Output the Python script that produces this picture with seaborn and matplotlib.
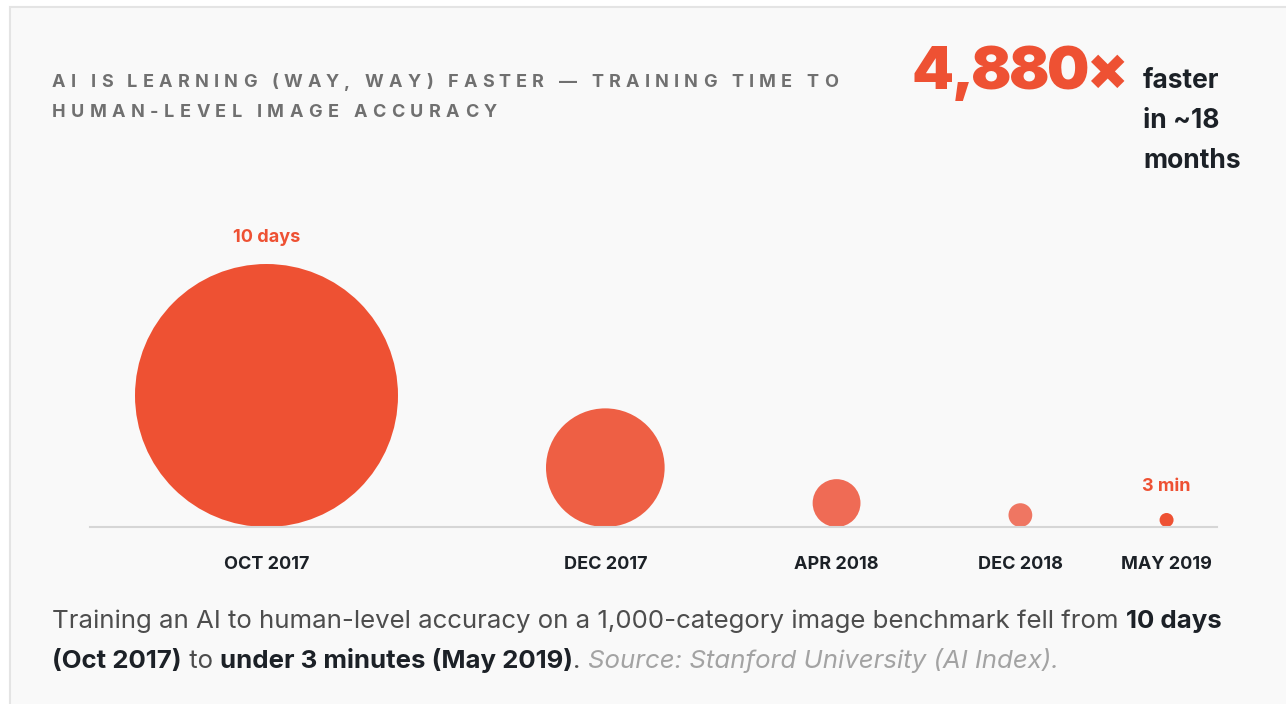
import numpy as np
import pandas as pd
import matplotlib
matplotlib.use("Agg")
import matplotlib.pyplot as plt
import seaborn as sns
from matplotlib.font_manager import FontProperties
from matplotlib.patches import Rectangle

# data
dates = ["OCT 2017", "DEC 2017", "APR 2018", "DEC 2018", "MAY 2019"]
minutes = [14400, 2900, 440, 80, 2.95]   # training time, minutes
dot_colors = ["#EE5133", "#EE5F44", "#EF6B55", "#EF7662", "#EE5133"]
value_labels = {"OCT 2017": "10 days", "MAY 2019": "3 min"}

title_lines = ["AI IS LEARNING (WAY, WAY) FASTER — TRAINING TIME TO",
               "HUMAN-LEVEL IMAGE ACCURACY"]
big_number = "4,880×"
big_note = ["faster", "in ~18", "months"]

RED = "#EE5133"
INK = "#1c2127"
W, H = 1286, 704

sns.set_theme(style="white")
plt.rcParams['font.family'] = ['Inter', 'DejaVu Sans']

fig = plt.figure(figsize=(W / 100, H / 100), dpi=100, facecolor="white")
fig.patches.append(Rectangle((10 / W, -0.1), 1.2, 1.1 - 7 / H,
                             transform=fig.transFigure, facecolor="#f9f9f9",
                             edgecolor="#e4e4e4", lw=1.5, zorder=-10))
renderer = fig.canvas.get_renderer()


def fx(x, y):
    return x / W, 1 - y / H


def text_width(s, **kw):
    fp = FontProperties(family=plt.rcParams['font.family'],
                        size=kw.get('fontsize', 10),
                        weight=kw.get('fontweight', 'normal'),
                        style=kw.get('fontstyle', 'normal'))
    w, h, d = renderer.get_text_width_height_descent(s, fp, ismath=False)
    return w


def spaced(x, y, s, spacing, **kw):
    for ch in s:
        fig.text(*fx(x, y), ch, va='baseline', ha='left', **kw)
        x += text_width(ch, **kw) + spacing


def runs(x, y, parts):
    for s, kw in parts:
        fig.text(*fx(x, y), s, va='baseline', ha='left', **kw)
        x += text_width(s, **kw)


# bubble axis: one data unit = one pixel
base_y, ax_left, ax_right = 527, 90, 1217
ax = fig.add_axes([ax_left / W, (H - base_y) / H, (ax_right - ax_left) / W, 330 / H])
ax.patch.set_alpha(0)
tick_kw = dict(fontweight='bold', fontsize=13)

df = pd.DataFrame({"date": dates, "minutes": minutes})
d_min, d_max = 14, 263
vmin, vmax = df.minutes.min(), df.minutes.max()
area = d_min**2 + (df.minutes - vmin) / (vmax - vmin) * (d_max**2 - d_min**2)
df["d"] = np.sqrt(area)
gap = 148
df["x"] = 45 + df.d.cumsum() - df.d / 2 + gap * np.arange(len(df))
# keep the last label inside the baseline
last_w = text_width(dates[-1], **tick_kw)
df.loc[df.index[-1], "x"] = min(df.x.iloc[-1], ax_right - ax_left - last_w / 2 - 5)
df["y"] = df.d / 2
df["s"] = (df.d * 0.72) ** 2

sns.scatterplot(data=df, x="x", y="y", hue="date", palette=dot_colors,
                size="s", sizes=(df.s.min(), df.s.max()),
                size_norm=(df.s.min(), df.s.max()),
                linewidth=0, legend=False, ax=ax, clip_on=False)

ax.set_xlim(0, ax_right - ax_left)
ax.set_ylim(0, 330)
sns.despine(ax=ax, left=True)
ax.spines['bottom'].set_color("#d6d6d6")
ax.spines['bottom'].set_linewidth(1.5)
ax.set_yticks([])
ax.set_xticks(df.x)
ax.set_xticklabels(dates, color=INK, **tick_kw)
ax.tick_params(axis='x', length=0, pad=21)
ax.set_xlabel('')
ax.set_ylabel('')

for _, r in df.iterrows():
    if r.date in value_labels:
        ax.annotate(value_labels[r.date], (r.x, r.d), xytext=(0, 16),
                    textcoords='offset points', ha='center', va='baseline',
                    color=RED, fontweight='bold', fontsize=13)

# title, letter spaced
tkw = dict(fontsize=13, fontweight='bold', color="#707070")
spaced(52, 87, title_lines[0], 5.2, **tkw)
spaced(52, 117, title_lines[1], 5.4, **tkw)

spaced(912, 89, big_number, -2.5, fontsize=43, fontweight=900, color=RED)
for i, line in enumerate(big_note):
    fig.text(*fx(1143, 88 + 40 * i), line, fontsize=19, fontweight='bold',
             color=INK, va='baseline', ha='left')

# caption
fs = 18.6
reg = dict(fontsize=fs, color="#4d4d4d")
bold = dict(fontsize=fs, color=INK, fontweight='bold')
src = dict(fontsize=fs, color="#a3a3a3", fontstyle='italic')
runs(52, 628, [("Training an AI to human-level accuracy on a 1,000-category image "
                "benchmark fell from ", reg), ("10 days", bold)])
runs(52, 668, [("(Oct 2017)", bold), (" to ", reg),
               ("under 3 minutes (May 2019)", bold), (". ", reg),
               ("Source: Stanford University (AI Index).", src)])

fig.savefig("out.png", dpi=100, facecolor=fig.get_facecolor())
